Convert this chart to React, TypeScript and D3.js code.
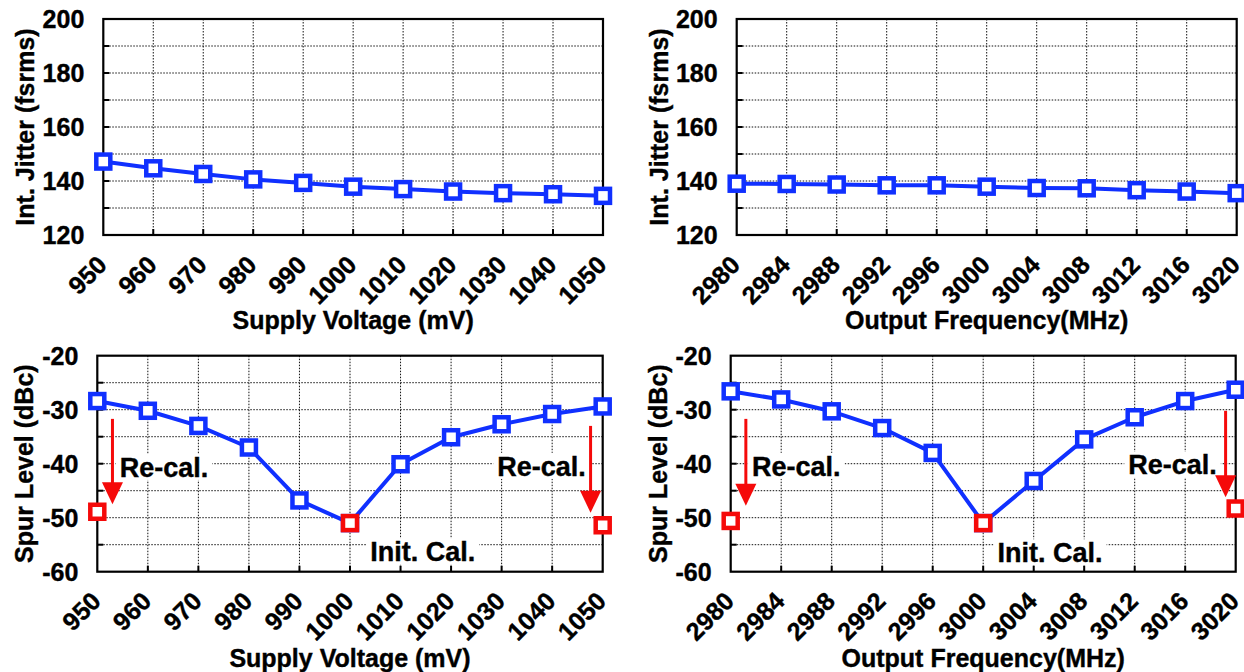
import React from "react";
import * as d3 from "d3";

// ---------- data ----------
const voltTicks = [950, 960, 970, 980, 990, 1000, 1010, 1020, 1030, 1040, 1050];
const freqTicks = [2980, 2984, 2988, 2992, 2996, 3000, 3004, 3008, 3012, 3016, 3020];

const jitterVsVolt = [147.2, 144.7, 142.6, 140.6, 139.3, 137.9, 137.0, 136.1, 135.5, 135.1, 134.5];
const jitterVsFreq = [139.0, 138.9, 138.7, 138.4, 138.4, 137.9, 137.4, 137.3, 136.6, 136.1, 135.5];

const spurVsVolt = [-28.4, -30.2, -33.0, -37.0, -46.8, -51.0, -40.1, -35.1, -32.7, -30.8, -29.4];
const spurVsFreq = [-26.6, -28.1, -30.3, -33.4, -38.0, -51.0, -43.2, -35.5, -31.4, -28.4, -26.3];

// red (calibrated) points
const calVoltX = [950, 1000, 1050];
const calVoltY = [-48.9, -51.0, -51.4];
const calFreqX = [2980, 3000, 3020];
const calFreqY = [-50.6, -51.0, -48.3];

const jitterLabels = [120, 140, 160, 180, 200];
const jitterGrid = [130, 140, 150, 160, 170, 180, 190];
const spurLabels = [-60, -50, -40, -30, -20];
const spurGrid = [-55, -50, -45, -40, -35, -30, -25];

// arrows: [x, yStart, yEnd]
const arrowsVolt = [
  [953.0, -31.7, -47.5],
  [1047.6, -33.0, -49.1],
];
const arrowsFreq = [
  [2981.2, -31.7, -47.8],
  [3019.2, -30.2, -46.2],
];
// annotations: [text, x center, y (cap center)]
const notesVolt: [string, number, number][] = [
  ["Re-cal.", 963.2, -40.6],
  ["Re-cal.", 1037.9, -40.4],
  ["Init. Cal.", 1014.4, -56.2],
];
const notesFreq: [string, number, number][] = [
  ["Re-cal.", 2985.2, -40.4],
  ["Re-cal.", 3015.0, -40.2],
  ["Init. Cal.", 3005.3, -56.4],
];

// ---------- style ----------
const FONT = "'Liberation Sans', Arial, Helvetica, sans-serif";
const BLUE = "#1030ff";
const RED = "#f50a0a";
const TXT = { fontWeight: "bold" as const, fontFamily: FONT, stroke: "#000", strokeWidth: 0.4 };

let measureCtx: CanvasRenderingContext2D | null = null;
function textWidth(t: string, size: number) {
  if (!measureCtx) {
    const c = document.createElement("canvas");
    measureCtx = c.getContext("2d");
  }
  if (!measureCtx) return t.length * size * 0.55;
  measureCtx.font = `bold ${size}px ${FONT}`;
  return measureCtx.measureText(t).width;
}

type PanelProps = {
  x0: number; x1: number; y0: number; y1: number;
  xTicks: number[]; yDomain: [number, number];
  yLabels: number[]; yGrid: number[];
  values: number[];
  calX?: number[]; calY?: number[];
  arrows?: number[][];
  notes?: [string, number, number][];
  xTitle: string; yTitle: string;
  xTitleY: number; yTitleX: number;
  tickDy: number;
};

function Panel(p: PanelProps) {
  const x = d3.scaleLinear().domain([p.xTicks[0], p.xTicks[p.xTicks.length - 1]]).range([p.x0, p.x1]);
  const y = d3.scaleLinear().domain(p.yDomain).range([p.y1, p.y0]);
  const line = d3.line<number>().x((_, i) => x(p.xTicks[i])).y((d) => y(d));
  const pts = p.values.map((v, i) => [x(p.xTicks[i]), y(v)]);
  const ms = 14;
  const noteSize = 27;
  return (
    <g>
      {/* grid */}
      {p.yGrid.map((g) => (
        <line key={"gy" + g} x1={p.x0} x2={p.x1} y1={y(g)} y2={y(g)} stroke="#111" strokeWidth={1} strokeDasharray="1.5,1.5" />
      ))}
      {p.xTicks.slice(1, -1).map((t) => (
        <line key={"gx" + t} x1={x(t)} x2={x(t)} y1={p.y0} y2={p.y1} stroke="#111" strokeWidth={1} strokeDasharray="1.5,1.5" />
      ))}
      {/* annotation backgrounds */}
      {(p.notes || []).map(([t, nx, ny], i) => {
        const w = textWidth(t, noteSize);
        return (
          <rect key={"nb" + i} x={x(nx) - w / 2 - 4} y={y(ny) - 13} width={w + 8} height={26} fill="#fff" />
        );
      })}
      {/* ticks */}
      {p.yGrid.map((g) => (
        <line key={"ty" + g} x1={p.x0} x2={p.x0 + 6} y1={y(g)} y2={y(g)} stroke="#000" strokeWidth={2} />
      ))}
      {p.xTicks.slice(1, -1).map((t) => (
        <line key={"tx" + t} x1={x(t)} x2={x(t)} y1={p.y1} y2={p.y1 - 6} stroke="#000" strokeWidth={2} />
      ))}
      {/* frame */}
      <rect x={p.x0} y={p.y0} width={p.x1 - p.x0} height={p.y1 - p.y0} fill="none" stroke="#000" strokeWidth={2.2} />
      {/* y tick labels */}
      {p.yLabels.map((v) => (
        <text key={"yl" + v} x={p.x0 - 19} y={y(v) + 9} textAnchor="end" fontSize={25} {...TXT}>
          {v}
        </text>
      ))}
      {/* x tick labels */}
      {p.xTicks.map((t) => (
        <text key={"xl" + t} transform={`translate(${x(t) + 5},${p.y1 + p.tickDy}) rotate(-45)`} textAnchor="end" fontSize={25} {...TXT}>
          {t}
        </text>
      ))}
      {/* titles */}
      <text x={(p.x0 + p.x1) / 2} y={p.xTitleY} textAnchor="middle" fontSize={25} {...TXT}>
        {p.xTitle}
      </text>
      <text transform={`translate(${p.yTitleX + 9},${(p.y0 + p.y1) / 2}) rotate(-90)`} textAnchor="middle" fontSize={25} {...TXT}>
        {p.yTitle}
      </text>
      {/* annotations */}
      {(p.notes || []).map(([t, nx, ny], i) => (
        <text key={"nt" + i} x={x(nx)} y={y(ny) + noteSize * 0.358} textAnchor="middle" fontSize={noteSize} {...TXT}>
          {t}
        </text>
      ))}
      {/* arrows */}
      {(p.arrows || []).map(([ax, ya, yb], i) => {
        const X = x(ax), Y0 = y(ya), Y1 = y(yb);
        const hh = 22, hw = 10.5;
        return (
          <g key={"ar" + i}>
            <line x1={X} x2={X} y1={Y0} y2={Y1 - hh + 2} stroke={RED} strokeWidth={3} />
            <path d={`M${X - hw},${Y1 - hh} L${X + hw},${Y1 - hh} L${X},${Y1} Z`} fill={RED} />
          </g>
        );
      })}
      {/* line */}
      <path d={line(p.values) || ""} fill="none" stroke={BLUE} strokeWidth={4} strokeLinejoin="round" />
      {pts.map(([px, py], i) => (
        <rect key={"m" + i} x={px - ms / 2} y={py - ms / 2} width={ms} height={ms} fill="#fff" stroke={BLUE} strokeWidth={4.5} />
      ))}
      {(p.calX || []).map((cx, i) => (
        <rect key={"c" + i} x={x(cx) - ms / 2} y={y(p.calY![i]) - ms / 2} width={ms} height={ms} fill="#fff" stroke={RED} strokeWidth={4.5} />
      ))}
    </g>
  );
}

export default function App() {
  return (
    <svg width={1244} height={672} style={{ position: "absolute", left: 0, top: 0, background: "#fff" }}>
      <rect width={1244} height={672} fill="#fff" />
      <Panel x0={103.3} x1={603} y0={19} y1={235} xTicks={voltTicks} yDomain={[120, 200]}
        yLabels={jitterLabels} yGrid={jitterGrid} values={jitterVsVolt}
        xTitle="Supply Voltage (mV)" yTitle="Int. Jitter (fsrms)" xTitleY={329} yTitleX={25} tickDy={31.5} />
      <Panel x0={736.7} x1={1236.7} y0={19} y1={235} xTicks={freqTicks} yDomain={[120, 200]}
        yLabels={jitterLabels} yGrid={jitterGrid} values={jitterVsFreq}
        xTitle="Output Frequency(MHz)" yTitle="Int. Jitter (fsrms)" xTitleY={329} yTitleX={658.5} tickDy={31.5} />
      <Panel x0={97.3} x1={602.7} y0={355.7} y1={571.7} xTicks={voltTicks} yDomain={[-60, -20]}
        yLabels={spurLabels} yGrid={spurGrid} values={spurVsVolt} calX={calVoltX} calY={calVoltY}
        arrows={arrowsVolt} notes={notesVolt}
        xTitle="Supply Voltage (mV)" yTitle="Spur Level (dBc)" xTitleY={667} yTitleX={24} tickDy={31} />
      <Panel x0={730.7} x1={1235.7} y0={355.7} y1={571.7} xTicks={freqTicks} yDomain={[-60, -20]}
        yLabels={spurLabels} yGrid={spurGrid} values={spurVsFreq} calX={calFreqX} calY={calFreqY}
        arrows={arrowsFreq} notes={notesFreq}
        xTitle="Output Frequency(MHz)" yTitle="Spur Level (dBc)" xTitleY={667} yTitleX={658} tickDy={31} />
    </svg>
  );
}
